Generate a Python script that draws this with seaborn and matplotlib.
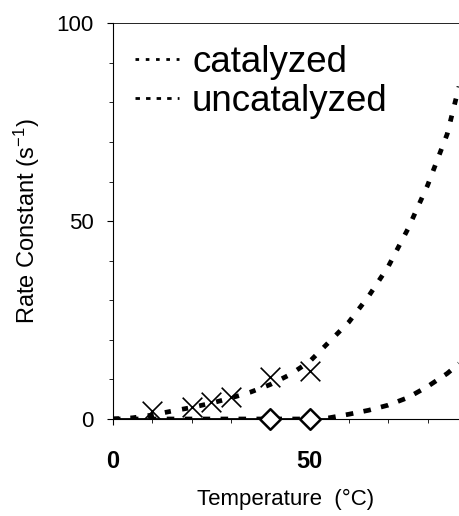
import matplotlib
matplotlib.use("Agg")
import matplotlib.pyplot as plt
import seaborn as sns
import pandas as pd

# fitted curves
temp_curve = [0, 5, 10, 15, 20, 25, 30, 35, 40, 45, 50, 55, 60, 65, 70, 75, 80, 85, 88]
catalyzed_curve = [0, 0.3, 1, 2, 2.9, 4, 5.3, 6.8, 8.7, 11.2, 14.5, 19.5, 24.5, 31, 38.5, 48, 59, 72, 84]
uncatalyzed_curve = [0, 0, 0, 0, 0, 0, 0, 0, 0, 0, 0, 0.3, 1.2, 2.2, 3.5, 5.4, 8.2, 11.5, 14]

# measured points
temp_cat = [10, 20, 25, 30, 40, 50]
k_cat = [2, 3, 4.3, 5.5, 10.5, 12]
temp_uncat = [40, 50]
k_uncat = [0, 0]

base_x = [0, 55]
base_y = [0, 0]

sns.set_style("ticks")
plt.rcParams['font.family'] = ['Liberation Sans', 'DejaVu Sans']
plt.rcParams['mathtext.default'] = 'regular'
plt.rcParams['text.color'] = 'black'
plt.rcParams['axes.labelcolor'] = 'black'
plt.rcParams['xtick.color'] = 'black'
plt.rcParams['ytick.color'] = 'black'
plt.rcParams['axes.edgecolor'] = 'black'

fig = plt.figure(figsize=(4.59, 5.16), dpi=100)
ax = fig.add_axes([0.246, 0.188, 0.754, 0.767])

df = pd.DataFrame({"T": temp_curve, "cat": catalyzed_curve, "uncat": uncatalyzed_curve})

sns.lineplot(data=df, x="T", y="cat", ax=ax, color="black", lw=3.4,
             linestyle=(0, (1.3, 2.4)), label="catalyzed")
sns.lineplot(data=df, x="T", y="uncat", ax=ax, color="black", lw=3.4,
             linestyle=(0, (1.6, 2.2)), label="uncatalyzed")
ax.plot(base_x, base_y, color="black", lw=1.3)

sns.scatterplot(x=temp_cat, y=k_cat, ax=ax, marker="x", s=200, color="black",
                linewidth=1.2, zorder=5)
ax.scatter(temp_uncat, k_uncat, marker="D", s=110, facecolors="white",
           edgecolors="black", linewidths=1.8, zorder=5, clip_on=False)

ax.set_xlim(0, 88)
ax.set_ylim(0, 100)
ax.set_xticks([0, 50])
ax.set_yticks([0, 50, 100])
ax.set_xticks(range(10, 90, 10), minor=True)
ax.set_yticks(range(10, 100, 10), minor=True)
ax.tick_params(axis="y", which="major", labelsize=16, length=4, pad=10)
ax.tick_params(axis="x", which="major", labelsize=17, length=4, pad=18)
ax.tick_params(which="minor", length=3, width=0.6)
for lab in ax.get_xticklabels():
    lab.set_fontweight("bold")

ax.set_xlabel("Temperature  (°C)", fontsize=16, labelpad=12)
ax.set_ylabel("Rate Constant (s$^{-1}$)", fontsize=17, labelpad=10)

ax.spines["right"].set_visible(False)
ax.spines["top"].set_linewidth(0.6)
ax.spines["left"].set_linewidth(0.8)
ax.spines["bottom"].set_linewidth(0.8)

leg = ax.legend(loc="upper left", frameon=False, fontsize=26.5, handlelength=1.2,
                handletextpad=0.35, borderaxespad=0.2, labelspacing=0.1)
for h in leg.get_lines():
    h.set_linewidth(2)

fig.savefig("out.png", dpi=100)
